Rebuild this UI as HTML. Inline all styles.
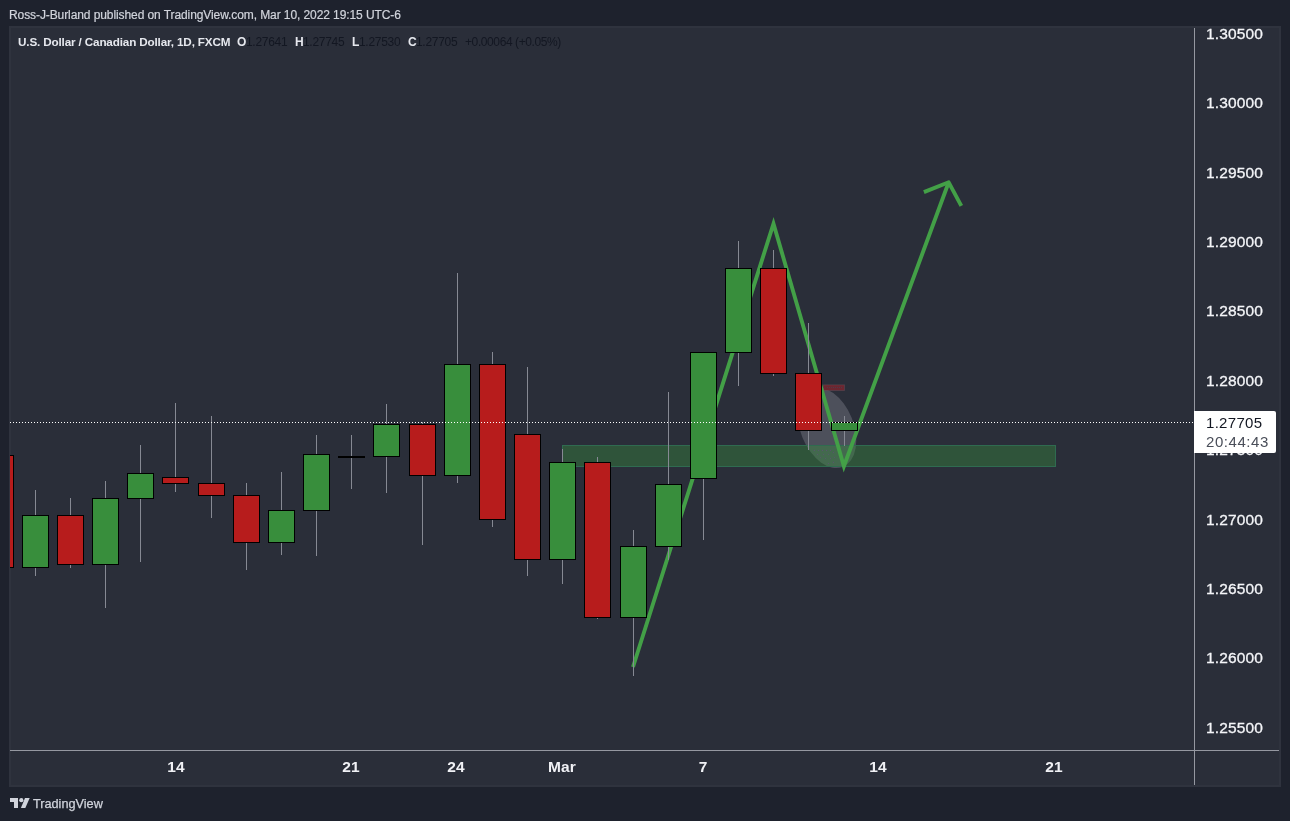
<!DOCTYPE html>
<html><head><meta charset="utf-8"><title>USDCAD</title>
<style>
html,body{margin:0;padding:0}
body{width:1290px;height:821px;background:#1e222d;position:relative;overflow:hidden;font-family:"Liberation Sans",sans-serif;color:#d1d4dc}
#hdr,.tt,.tv,.pl,.tl,#cur div,#logo{will-change:transform}
#hdr{-webkit-text-stroke:0.2px #d1d4dc;position:absolute;left:9px;top:7px;letter-spacing:-0.09px;font-size:12px;line-height:16px;white-space:nowrap;color:#d1d4dc}
#panel{position:absolute;left:9px;top:26px;width:1268px;height:757px;background:#2a2e39;border:2px solid #2f333e}
#chart{position:absolute;left:0;top:0}
.tt{position:absolute;top:34px;font-size:12px;line-height:16px;white-space:nowrap;font-weight:bold;color:#e6e8ee;letter-spacing:-0.09px}
.tv{position:absolute;top:34px;font-size:12px;line-height:16px;white-space:nowrap;color:#131722;letter-spacing:-0.3px}
.pl{position:absolute;left:1206px;letter-spacing:0.12px;width:70px;height:20px;line-height:20px;font-size:15.5px;color:#f4f5f8;-webkit-text-stroke:0.3px #f4f5f8;white-space:nowrap}
.tl{position:absolute;top:757.3px;width:60px;text-align:center;height:20px;line-height:20px;font-size:15.5px;font-weight:bold;color:#f0f1f5;letter-spacing:0.1px;white-space:nowrap}
#cur{position:absolute;left:1194px;top:411px;width:82px;height:42px;background:#fff;border-radius:0 2px 2px 0}
#cur div{position:absolute;left:12px;font-size:15px;line-height:20px;height:20px;white-space:nowrap}
#logo{position:absolute;left:33px;top:794.5px;font-size:12.7px;line-height:18px;color:#d1d4dc;-webkit-text-stroke:0.25px #d1d4dc;white-space:nowrap}
</style></head><body>
<div id="hdr">Ross-J-Burland published on TradingView.com, Mar 10, 2022 19:15 UTC-6</div>
<div id="panel"></div>
<svg id="chart" width="1290" height="821" viewBox="0 0 1290 821">
<defs><clipPath id="cp"><rect x="10" y="27" width="1184" height="723"/></clipPath></defs>
<g clip-path="url(#cp)">
<!-- zone -->
<!-- ellipse -->
<ellipse cx="827.1" cy="427.7" rx="42.2" ry="26.5" transform="rotate(68 827.1 427.7)" fill="rgba(120,123,134,0.45)"/>
<rect x="562.5" y="445.5" width="493" height="21" fill="rgba(56,142,60,0.4)" stroke="#2f6b50" stroke-width="1"/>
<rect x="823.5" y="384.8" width="21" height="5.7" fill="#6c2630" stroke="rgba(120,123,134,0.22)" stroke-width="1"/><g fill="#4b4050"><circle cx="827.40" cy="387.5" r="0.55"/><circle cx="829.41" cy="387.5" r="0.55"/><circle cx="831.43" cy="387.5" r="0.55"/><circle cx="833.44" cy="387.5" r="0.55"/><circle cx="835.46" cy="387.5" r="0.55"/><circle cx="837.48" cy="387.5" r="0.55"/><circle cx="839.49" cy="387.5" r="0.55"/><circle cx="841.50" cy="387.5" r="0.55"/></g>
<g fill="#5a5570"><circle cx="814.3" cy="450.4" r="0.55"/><circle cx="818.4" cy="450.4" r="0.55"/><circle cx="822.5" cy="450.4" r="0.55"/><circle cx="826.5" cy="450.4" r="0.55"/><circle cx="830.5" cy="450.4" r="0.55"/><circle cx="833.4" cy="452.4" r="0.55"/><circle cx="817.5" cy="454.5" r="0.55"/><circle cx="823.4" cy="454.5" r="0.55"/><circle cx="828.6" cy="454.5" r="0.55"/><circle cx="820.4" cy="457.5" r="0.55"/><circle cx="825.4" cy="458.5" r="0.55"/><circle cx="830.5" cy="458.5" r="0.55"/><circle cx="834.6" cy="457.5" r="0.55"/><circle cx="833.4" cy="462.4" r="0.55"/><circle cx="828.4" cy="463.5" r="0.55"/></g>
<!-- path -->
<polyline points="633,667 773.5,223.7 843.9,466.3 948.7,182.3" fill="none" stroke="#43a047" stroke-width="3.9" stroke-linejoin="miter" stroke-miterlimit="10"/>
<polyline points="923.9,192.1 948.7,182.3 961.3,205.8" fill="none" stroke="#43a047" stroke-width="3.9" stroke-linejoin="round"/>
<rect x="-12.5" y="455.5" width="26" height="112" fill="#b71c1c" stroke="#000" stroke-width="1"/>
<rect x="35" y="490" width="1" height="86" fill="#868993"/>
<rect x="22.5" y="515.5" width="26" height="52" fill="#388e3c" stroke="#000" stroke-width="1"/>
<rect x="70" y="498" width="1" height="70" fill="#868993"/>
<rect x="57.5" y="515.5" width="26" height="49" fill="#b71c1c" stroke="#000" stroke-width="1"/>
<rect x="105" y="481" width="1" height="127" fill="#868993"/>
<rect x="92.5" y="498.5" width="26" height="66" fill="#388e3c" stroke="#000" stroke-width="1"/>
<rect x="140" y="445" width="1" height="117" fill="#868993"/>
<rect x="127.5" y="473.5" width="26" height="25" fill="#388e3c" stroke="#000" stroke-width="1"/>
<rect x="175" y="403" width="1" height="89" fill="#868993"/>
<rect x="162.5" y="477.5" width="26" height="6" fill="#b71c1c" stroke="#000" stroke-width="1"/>
<rect x="211" y="416" width="1" height="102" fill="#868993"/>
<rect x="198.5" y="483.5" width="26" height="12" fill="#b71c1c" stroke="#000" stroke-width="1"/>
<rect x="246" y="483" width="1" height="87" fill="#868993"/>
<rect x="233.5" y="495.5" width="26" height="47" fill="#b71c1c" stroke="#000" stroke-width="1"/>
<rect x="281" y="472" width="1" height="83" fill="#868993"/>
<rect x="268.5" y="510.5" width="26" height="32" fill="#388e3c" stroke="#000" stroke-width="1"/>
<rect x="316" y="435" width="1" height="121" fill="#868993"/>
<rect x="303.5" y="454.5" width="26" height="56" fill="#388e3c" stroke="#000" stroke-width="1"/>
<rect x="351" y="435" width="1" height="54" fill="#868993"/>
<rect x="338" y="456" width="27" height="2" fill="#000"/>
<rect x="386" y="404" width="1" height="89" fill="#868993"/>
<rect x="373.5" y="424.5" width="26" height="32" fill="#388e3c" stroke="#000" stroke-width="1"/>
<rect x="422" y="422" width="1" height="123" fill="#868993"/>
<rect x="409.5" y="424.5" width="26" height="51" fill="#b71c1c" stroke="#000" stroke-width="1"/>
<rect x="457" y="273" width="1" height="210" fill="#868993"/>
<rect x="444.5" y="364.5" width="26" height="111" fill="#388e3c" stroke="#000" stroke-width="1"/>
<rect x="492" y="352" width="1" height="175" fill="#868993"/>
<rect x="479.5" y="364.5" width="26" height="155" fill="#b71c1c" stroke="#000" stroke-width="1"/>
<rect x="527" y="367" width="1" height="209" fill="#868993"/>
<rect x="514.5" y="434.5" width="26" height="125" fill="#b71c1c" stroke="#000" stroke-width="1"/>
<rect x="562" y="449" width="1" height="135" fill="#868993"/>
<rect x="549.5" y="462.5" width="26" height="97" fill="#388e3c" stroke="#000" stroke-width="1"/>
<rect x="597" y="457" width="1" height="162" fill="#868993"/>
<rect x="584.5" y="462.5" width="26" height="155" fill="#b71c1c" stroke="#000" stroke-width="1"/>
<rect x="633" y="530" width="1" height="146" fill="#868993"/>
<rect x="620.5" y="546.5" width="26" height="71" fill="#388e3c" stroke="#000" stroke-width="1"/>
<rect x="668" y="392" width="1" height="168" fill="#868993"/>
<rect x="655.5" y="484.5" width="26" height="62" fill="#388e3c" stroke="#000" stroke-width="1"/>
<rect x="703" y="352" width="1" height="188" fill="#868993"/>
<rect x="690.5" y="352.5" width="26" height="126" fill="#388e3c" stroke="#000" stroke-width="1"/>
<rect x="738" y="241" width="1" height="145" fill="#868993"/>
<rect x="725.5" y="268.5" width="26" height="84" fill="#388e3c" stroke="#000" stroke-width="1"/>
<rect x="773" y="250" width="1" height="126" fill="#868993"/>
<rect x="760.5" y="268.5" width="26" height="105" fill="#b71c1c" stroke="#000" stroke-width="1"/>
<rect x="808" y="323" width="1" height="127" fill="#868993"/>
<rect x="795.5" y="373.5" width="26" height="57" fill="#b71c1c" stroke="#000" stroke-width="1"/>
<rect x="844" y="416" width="1" height="30" fill="#868993"/>
<rect x="831.5" y="422.5" width="26" height="8" fill="#388e3c" stroke="#000" stroke-width="1"/>
<!-- current price dotted line -->
<line x1="10" y1="422.5" x2="1194" y2="422.5" stroke="#fff" stroke-width="1" stroke-dasharray="1 2"/>
</g>
<!-- axes -->
<rect x="1194" y="28" width="1" height="757" fill="#9598a1"/>
<rect x="10" y="750" width="1269" height="1" fill="#9598a1"/>
<!-- logo -->
<g fill="#d1d4dc">
<path d="M10 798H18V808H14V802H10Z"/>
<circle cx="21.3" cy="800.2" r="2.1"/>
<path d="M25 798H29.7L25.3 808H20.9Z"/>
</g>
</svg>
<div class="tt" style="left:18px;font-size:11.7px;letter-spacing:-0.15px">U.S. Dollar / Canadian Dollar, 1D, FXCM</div>
<div class="tt" style="left:237px">O</div><div class="tv" style="left:245.5px">1.27641</div>
<div class="tt" style="left:294.5px">H</div><div class="tv" style="left:303px">1.27745</div>
<div class="tt" style="left:352px">L</div><div class="tv" style="left:358.5px">1.27530</div>
<div class="tt" style="left:407.5px">C</div><div class="tv" style="left:415.5px">1.27705</div>
<div class="tv" style="left:465px;letter-spacing:-0.4px">+0.00064 (+0.05%)</div>
<div class="pl" style="top:23.8px">1.30500</div>
<div class="pl" style="top:93.2px">1.30000</div>
<div class="pl" style="top:162.6px">1.29500</div>
<div class="pl" style="top:232.0px">1.29000</div>
<div class="pl" style="top:301.4px">1.28500</div>
<div class="pl" style="top:370.8px">1.28000</div>
<div class="pl" style="top:440.2px">1.27500</div>
<div class="pl" style="top:509.6px">1.27000</div>
<div class="pl" style="top:579.0px">1.26500</div>
<div class="pl" style="top:648.4px">1.26000</div>
<div class="pl" style="top:717.8px">1.25500</div>
<div class="tl" style="left:146px">14</div>
<div class="tl" style="left:321px">21</div>
<div class="tl" style="left:426px">24</div>
<div class="tl" style="left:532px">Mar</div>
<div class="tl" style="left:673px">7</div>
<div class="tl" style="left:848px">14</div>
<div class="tl" style="left:1024px">21</div>
<div id="cur"><div style="top:1.5px;color:#131722;letter-spacing:0.3px">1.27705</div><div style="top:20.5px;color:#4a4e59;letter-spacing:0.55px">20:44:43</div></div>
<div id="logo">TradingView</div>
</body></html>
